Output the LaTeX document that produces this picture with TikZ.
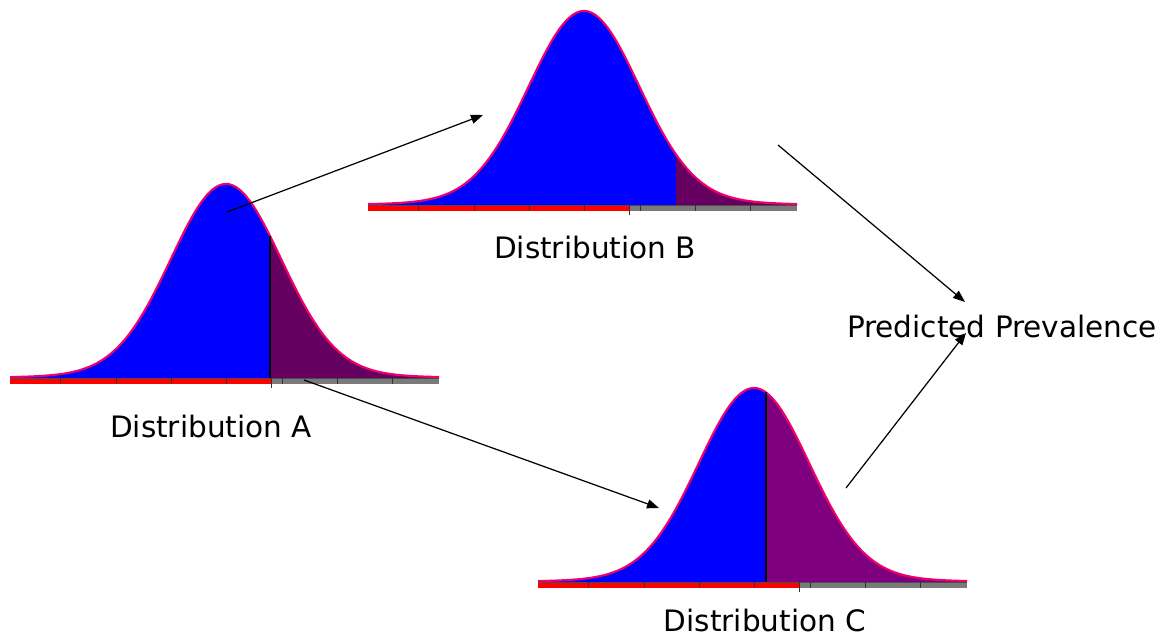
\documentclass[tikz,border=0pt]{standalone}
\usepackage{fontspec}
\setmainfont{DejaVu Sans}
\usepackage{tikz}
\usetikzlibrary{arrows.meta}
\definecolor{distBlue}{HTML}{0000FF}
\definecolor{edgePink}{HTML}{F0006A}
\definecolor{tailPurple}{HTML}{660060}
\definecolor{tailViolet}{HTML}{7F007F}
\definecolor{barRed}{HTML}{FF0000}
\definecolor{barGray}{HTML}{7A7A7A}

\begin{document}
\begin{tikzpicture}[
    x=0.02cm, y=-0.02cm,
    declare function={bell(\t)=194*(0.97*exp(-(\t/55)^2/2)+0.03*exp(-(\t/110)^2/2));},
    label/.style={anchor=base, inner sep=0pt, font=\fontsize{16.8}{20}\selectfont},
    curve/.style={draw=edgePink, line width=1.2pt, line join=round},
    tick/.style={draw=black!80, line width=0.5pt},
    arrow/.style={-{Triangle[length=0.24cm, width=0.18cm]}, line width=0.7pt},
]
    \useasboundingbox (0,0) rectangle (1171,636);

    % Distributions A, B, C (axis start, baseline, cut, tail colour, cut line)
    \foreach \ax/\ay/\cut/\col/\cutcol in {10/378/260/tailPurple/black, 368/205/308/tailPurple/none, 538/582/228/tailViolet/black} {
        \begin{scope}[shift={(\ax,\ay)}]
            \fill[distBlue] (0,0) -- plot[domain=0:\cut, variable=\t, samples=120] ({\t},{-bell(\t-216)}) -- (\cut,0) -- cycle;
            \fill[\col] (\cut,0) -- plot[domain=\cut:429, variable=\t, samples=80] ({\t},{-bell(\t-216)}) -- (429,0) -- cycle;
            \draw[curve] plot[domain=0:429, variable=\t, samples=200] ({\t},{-bell(\t-216)});
            \draw[draw=\cutcol, line width=0.6pt] (\cut,{-bell(\cut-216)}) -- (\cut,0);
            % axis bar
            \fill[barRed] (0,0) rectangle (261,6);
            \fill[barGray] (261,0) rectangle (429,6);
            \draw[black!70, line width=0.4pt] (0,0) -- (429,0);
            \foreach \k in {50,106,161,216,272,327,382}
                \draw[tick] (\k,0) -- (\k,6);
            \draw[tick] (261,0) -- (261,10);
        \end{scope}
    }

    % Labels
    \node[label] (distA) at (211,437) {Distribution A};
    \node[label] (distB) at (595,258) {Distribution B};
    \node[label] (distC) at (765,631) {Distribution C};
    \node[label] (prev) at (1002,337) {Predicted Prevalence};

    % Arrow ends
    \coordinate (aTop) at (227,212);
    \coordinate (aBase) at (304,380);
    \coordinate (bIn) at (483,115);
    \coordinate (bOut) at (778,145);
    \coordinate (cIn) at (659,508);
    \coordinate (cOut) at (846,488);
    \coordinate (prevIn1) at (965,302);
    \coordinate (prevIn2) at (966,333);

    % Arrows
    \draw[arrow] (aTop) -- (bIn);
    \draw[arrow] (aBase) -- (cIn);
    \draw[arrow] (bOut) -- (prevIn1);
    \draw[arrow] (cOut) -- (prevIn2);
\end{tikzpicture}
\end{document}
